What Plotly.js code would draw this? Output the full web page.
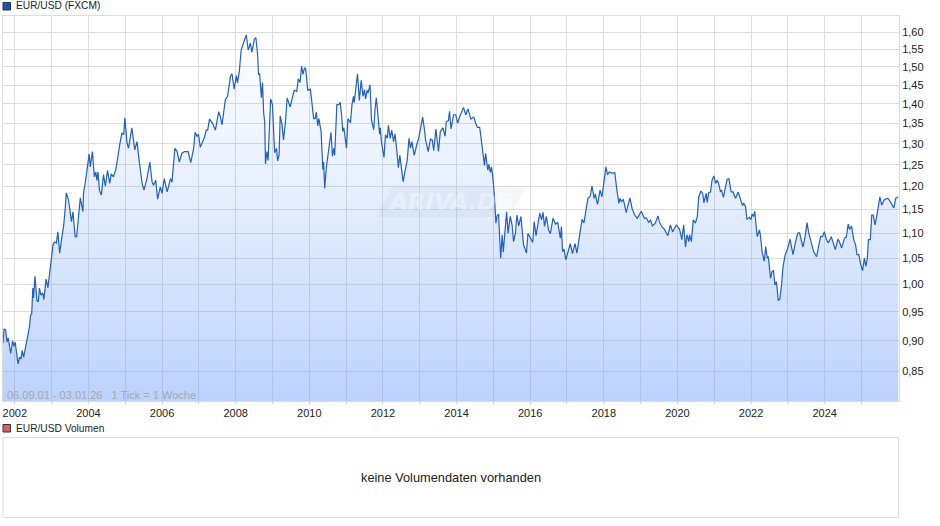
<!DOCTYPE html>
<html><head><meta charset="utf-8">
<script src="https://cdn.plot.ly/plotly-3.0.1.min.js"></script>
<style>html,body{margin:0;padding:0;background:#fff}#c{width:940px;height:526px}</style>
</head><body><div id="c"></div>
<script>
const years=[2001.68,2001.71,2001.75,2001.79,2001.82,2001.89,2001.94,2001.98,2002.01,2002.09,2002.13,2002.17,2002.20,2002.24,2002.31,2002.37,2002.40,2002.43,2002.46,2002.49,2002.51,2002.55,2002.60,2002.64,2002.67,2002.71,2002.76,2002.79,2002.85,2002.90,2002.95,2002.98,
2003.04,2003.08,2003.13,2003.17,2003.22,2003.27,2003.33,2003.37,2003.40,2003.46,2003.51,2003.54,2003.58,2003.64,2003.68,2003.73,2003.78,2003.85,2003.87,2003.92,2003.96,
2004.02,2004.05,2004.11,2004.16,2004.20,2004.23,2004.26,2004.30,2004.35,2004.41,2004.46,2004.52,2004.58,2004.62,2004.68,2004.75,2004.79,2004.85,2004.91,2004.96,2004.99,
2005.05,2005.09,2005.18,2005.26,2005.32,2005.39,2005.46,2005.51,2005.59,2005.67,2005.73,2005.77,2005.83,2005.88,2005.95,
2006.00,2006.06,2006.14,2006.23,2006.27,2006.35,2006.41,2006.47,2006.54,2006.61,2006.71,2006.78,2006.86,2006.90,2006.95,2006.99,
2007.04,2007.15,2007.20,2007.24,2007.29,2007.38,2007.45,2007.54,2007.58,2007.63,2007.66,2007.72,2007.78,2007.86,2007.90,2007.96,
2008.02,2008.05,2008.10,2008.15,2008.24,2008.29,2008.34,2008.40,2008.44,2008.51,2008.55,2008.60,2008.62,2008.65,2008.70,2008.73,2008.76,2008.79,2008.81,2008.85,2008.88,2008.95,
2009.00,2009.06,2009.11,2009.14,2009.18,2009.21,2009.26,2009.30,2009.35,2009.40,2009.48,2009.55,2009.59,2009.66,2009.70,2009.75,2009.79,2009.83,2009.87,2009.90,2009.96,
2010.03,2010.07,2010.12,2010.16,2010.19,2010.23,2010.26,2010.32,2010.37,2010.39,2010.42,2010.46,2010.53,2010.59,2010.63,2010.67,2010.69,2010.75,2010.80,2010.84,2010.88,2010.91,2010.94,2010.98,
2011.01,2011.05,2011.12,2011.16,2011.20,2011.22,2011.27,2011.31,2011.36,2011.41,2011.46,2011.50,2011.53,2011.57,2011.60,2011.65,2011.69,2011.75,2011.79,2011.82,2011.86,2011.91,2011.93,2011.96,
2012.03,2012.07,2012.12,2012.15,2012.20,2012.24,2012.29,2012.33,2012.38,2012.42,2012.46,2012.55,2012.61,2012.66,2012.71,2012.75,2012.79,2012.85,2012.93,2012.97,
2013.02,2013.08,2013.13,2013.16,2013.23,2013.29,2013.34,2013.38,2013.44,2013.51,2013.56,2013.63,2013.69,2013.72,2013.78,2013.81,2013.85,2013.92,2013.98,
2014.03,2014.09,2014.14,2014.19,2014.25,2014.31,2014.39,2014.47,2014.52,2014.57,2014.63,2014.69,2014.76,2014.79,2014.85,2014.88,2014.92,2014.95,2014.99,
2015.03,2015.07,2015.10,2015.14,2015.20,2015.24,2015.27,2015.32,2015.36,2015.40,2015.46,2015.51,2015.55,2015.60,2015.64,2015.69,2015.75,2015.82,2015.90,2015.94,
2016.01,2016.07,2016.11,2016.16,2016.26,2016.31,2016.35,2016.39,2016.44,2016.50,2016.55,2016.62,2016.69,2016.75,2016.82,2016.85,2016.88,2016.92,2016.97,
2017.05,2017.09,2017.15,2017.22,2017.27,2017.35,2017.41,2017.46,2017.50,2017.57,2017.63,2017.68,2017.74,2017.77,2017.83,2017.90,2017.95,
2018.01,2018.06,2018.10,2018.15,2018.23,2018.30,2018.35,2018.41,2018.44,2018.48,2018.53,2018.61,2018.66,2018.71,2018.77,2018.84,2018.91,
2019.02,2019.10,2019.16,2019.22,2019.27,2019.32,2019.40,2019.47,2019.51,2019.58,2019.65,2019.74,2019.81,2019.87,2019.97,
2020.06,2020.12,2020.17,2020.22,2020.26,2020.31,2020.33,2020.38,2020.43,2020.49,2020.54,2020.58,2020.64,2020.69,2020.72,2020.78,2020.81,2020.85,2020.90,2020.94,2020.99,
2021.04,2021.08,2021.12,2021.17,2021.20,2021.25,2021.30,2021.35,2021.40,2021.46,2021.51,2021.58,2021.65,2021.71,2021.77,2021.80,2021.85,2021.89,2021.96,
2022.00,2022.03,2022.07,2022.10,2022.14,2022.17,2022.23,2022.26,2022.30,2022.36,2022.40,2022.44,2022.47,2022.53,2022.57,2022.61,2022.65,2022.69,2022.74,2022.78,2022.83,2022.87,2022.93,
2023.00,2023.06,2023.14,2023.21,2023.27,2023.32,2023.41,2023.47,2023.52,2023.57,2023.63,2023.70,2023.78,2023.84,2023.89,2023.94,2023.99,
2024.05,2024.10,2024.18,2024.23,2024.29,2024.36,2024.40,2024.46,2024.54,2024.59,2024.64,2024.68,2024.73,2024.79,2024.84,2024.88,2024.93,2024.97,
2025.03,2025.08,2025.12,2025.16,2025.19,2025.24,2025.28,2025.32,2025.37,2025.42,2025.46,2025.50,2025.55,2025.61,2025.70,2025.74,2025.81,2025.88,2025.93,2026.00];
const rates=[.896,.920,.919,.898,.905,.879,.900,.891,.898,.862,.873,.870,.884,.873,.895,.914,.924,.944,.947,.993,.975,1.015,.971,.968,.993,.980,.984,.972,1.010,.994,1.024,1.041,
1.077,1.082,1.080,1.103,1.060,1.087,1.117,1.152,1.186,1.170,1.142,1.124,1.145,1.093,1.093,1.135,1.175,1.145,1.188,1.211,1.241,
1.275,1.245,1.281,1.222,1.233,1.214,1.233,1.192,1.181,1.227,1.201,1.237,1.207,1.229,1.222,1.241,1.268,1.297,1.326,1.322,1.364,
1.301,1.289,1.339,1.285,1.305,1.252,1.207,1.192,1.218,1.256,1.210,1.203,1.214,1.172,1.199,
1.185,1.218,1.188,1.218,1.210,1.289,1.281,1.256,1.277,1.281,1.281,1.255,1.289,1.328,1.318,1.323,
1.291,1.315,1.333,1.333,1.361,1.349,1.333,1.380,1.368,1.347,1.368,1.411,1.420,1.474,1.481,1.439,
1.476,1.456,1.488,1.548,1.577,1.592,1.548,1.568,1.542,1.580,1.584,1.530,1.479,1.481,1.416,1.457,1.378,1.352,1.252,1.281,1.260,1.413,
1.398,1.278,1.289,1.259,1.273,1.369,1.347,1.309,1.351,1.416,1.392,1.420,1.436,1.433,1.467,1.457,1.502,1.479,1.497,1.497,1.436,
1.439,1.403,1.362,1.362,1.379,1.344,1.362,1.330,1.239,1.256,1.196,1.241,1.291,1.328,1.270,1.289,1.272,1.398,1.398,1.404,1.368,1.330,1.339,1.309,
1.289,1.362,1.352,1.398,1.420,1.403,1.446,1.481,1.409,1.463,1.420,1.438,1.413,1.436,1.429,1.451,1.359,1.334,1.390,1.416,1.377,1.324,1.339,1.305,
1.267,1.322,1.313,1.345,1.313,1.333,1.305,1.324,1.281,1.243,1.272,1.211,1.239,1.260,1.313,1.289,1.305,1.272,1.301,1.313,
1.336,1.366,1.334,1.309,1.281,1.311,1.309,1.283,1.336,1.281,1.330,1.339,1.318,1.354,1.357,1.381,1.336,1.372,1.372,
1.351,1.368,1.378,1.391,1.372,1.387,1.361,1.366,1.351,1.340,1.340,1.297,1.248,1.277,1.237,1.251,1.232,1.245,1.218,
1.178,1.121,1.136,1.140,1.050,1.097,1.062,1.117,1.145,1.100,1.135,1.117,1.083,1.100,1.138,1.115,1.135,1.077,1.060,1.100,
1.090,1.081,1.124,1.095,1.142,1.128,1.144,1.114,1.135,1.107,1.099,1.131,1.119,1.122,1.090,1.114,1.063,1.068,1.047,
1.070,1.079,1.059,1.079,1.060,1.097,1.129,1.121,1.142,1.174,1.178,1.201,1.174,1.183,1.161,1.192,1.177,
1.218,1.245,1.227,1.233,1.230,1.232,1.196,1.163,1.174,1.166,1.172,1.143,1.159,1.175,1.152,1.138,1.131,
1.146,1.131,1.132,1.122,1.128,1.115,1.121,1.136,1.124,1.113,1.108,1.095,1.117,1.103,1.117,
1.108,1.087,1.117,1.072,1.097,1.083,1.097,1.083,1.128,1.121,1.135,1.177,1.190,1.184,1.164,1.185,1.165,1.187,1.188,1.214,1.224,
1.207,1.214,1.207,1.188,1.192,1.176,1.199,1.216,1.218,1.188,1.188,1.174,1.188,1.174,1.158,1.164,1.156,1.129,1.133,
1.128,1.140,1.135,1.146,1.114,1.093,1.107,1.093,1.063,1.044,1.073,1.050,1.053,1.011,1.024,1.026,.999,1.005,.971,.972,.999,1.034,1.057,
1.070,1.088,1.057,1.083,1.100,1.101,1.072,1.093,1.122,1.100,1.080,1.063,1.053,1.073,1.093,1.093,1.103,
1.087,1.080,1.093,1.079,1.067,1.088,1.083,1.070,1.090,1.092,1.119,1.108,1.115,1.087,1.077,1.057,1.057,1.041,
1.026,1.050,1.034,1.050,1.087,1.087,1.138,1.138,1.117,1.138,1.156,1.177,1.159,1.170,1.174,1.172,1.163,1.153,1.174,1.177];
const yTicks=[.85,.90,.95,1.00,1.05,1.10,1.15,1.20,1.25,1.30,1.35,1.40,1.45,1.50,1.55,1.60];
const xTicks=[2002,2003,2004,2005,2006,2007,2008,2009,2010,2011,2012,2013,2014,2015,2016,2017,2018,2019,2020,2021,2022,2023,2024,2025];
const xLabels=xTicks.map(y=>y%2===0?String(y):"");
const font="Liberation Sans, Arial, sans-serif";
const txt=(text,x,y,extra)=>Object.assign({text,x,y,xref:"paper",yref:"paper",showarrow:false,xanchor:"left",yanchor:"middle",font:{family:font,size:10.2,color:"#222"}},extra||{});
const px=v=>(v-3)/896, py=v=>(517-v)/501;
Plotly.newPlot("c",[{
  x:years,y:rates,type:"scatter",mode:"lines",
  line:{color:"#2160bf",width:1.2,shape:"linear"},
  fill:"tozeroy",
  fillgradient:{type:"vertical",start:1.62,stop:0.8045,
    colorscale:[[0,"rgba(120,165,250,0)"],[0.5,"rgba(120,165,250,0.21)"],[1,"rgba(120,165,250,0.5)"]]},
  hoverinfo:"skip",showlegend:false
}],{
  width:940,height:526,paper_bgcolor:"#fff",plot_bgcolor:"#fff",separators:",.",
  margin:{l:3,r:41,t:16,b:9,pad:0},showlegend:false,
  font:{family:font,size:11,color:"#222"},
  xaxis:{type:"linear",range:[2001.68,2026.02],tickmode:"array",tickvals:xTicks,ticktext:xLabels,
    ticks:"outside",ticklen:2,tickcolor:"#ccc",tickangle:0,showgrid:true,gridcolor:"#dcdcdc",gridwidth:1,zeroline:false,
    showline:true,linecolor:"#dcdcdc",linewidth:1,mirror:true,anchor:"y",tickfont:{family:font,size:11,color:"#222"}},
  yaxis:{type:"log",range:[Math.log10(.8045),Math.log10(1.6494)],domain:[(517-401)/501,1],side:"right",
    tickmode:"array",tickvals:yTicks,tickformat:".2f",ticks:"",showgrid:true,gridcolor:"#dcdcdc",gridwidth:1,zeroline:false,
    showline:true,linecolor:"#dcdcdc",linewidth:1,mirror:true,tickfont:{family:font,size:11,color:"#222"}},
  shapes:[
    {type:"rect",xref:"paper",yref:"paper",x0:px(3),x1:px(10.5),y0:py(10),y1:py(2.5),fillcolor:"#1a56b4",line:{color:"#333",width:1}},
    {type:"rect",xref:"paper",yref:"paper",x0:px(3),x1:px(10.5),y0:py(432),y1:py(424.5),fillcolor:"#d9605c",line:{color:"#333",width:1}},
    {type:"rect",xref:"paper",yref:"paper",x0:px(3),x1:px(898.5),y0:py(517.5),y1:py(437.5),fillcolor:"rgba(0,0,0,0)",line:{color:"#dcdcdc",width:1}},
    {type:"path",xref:"paper",yref:"paper",layer:"above",
     path:`M ${px(392)} ${py(187)} L ${px(525)} ${py(187)} L ${px(511)} ${py(217)} L ${px(377)} ${py(217)} Z`,
     fillcolor:"rgba(130,150,180,0.08)",line:{width:0}}
  ],
  annotations:[
    txt("EUR/USD (FXCM)",px(13.5),py(6)),
    txt("EUR/USD Volumen",px(13.5),py(428)),
    txt("keine Volumendaten vorhanden",px(451),py(477.5),{xanchor:"center",font:{family:font,size:12.8,color:"#222"}}),
    txt("06.09.01 - 03.01.26 &nbsp; 1 Tick = 1 Woche",px(5),py(395),{font:{family:font,size:11,color:"#a8a8a8"}}),
    txt("<b><i>ARIVA.DE</i></b>",px(450),py(202),{xanchor:"center",font:{family:"DejaVu Sans",size:23,color:"rgba(255,255,255,0.4)"}})
  ]
},{staticPlot:true,displayModeBar:false});
</script></body></html>
